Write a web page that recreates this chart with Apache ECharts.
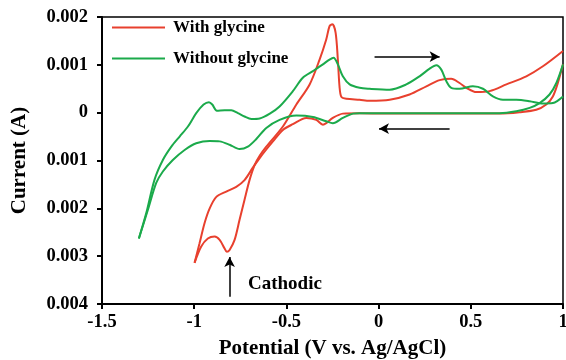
<!DOCTYPE html>
<html>
<head>
<meta charset="utf-8">
<script src="https://cdn.jsdelivr.net/npm/echarts@6/dist/echarts.min.js"></script>
<style>
  html, body { margin: 0; padding: 0; background: #fff; }
  #chart { width: 566px; height: 360px; }
</style>
</head>
<body>
<div id="chart"></div>
<script>
// cyclic voltammograms, potential in V, current in A
// red: with glycine. cathodic scan runs 1 -> -1, anodic scan -1 -> 1
const redCathodicV = [1.000, 0.972, 0.945, 0.909, 0.855, 0.765, 0.656, 0.400, 0.100, -0.103, -0.194, -0.248, -0.284, -0.302, -0.338, -0.392, -0.465, -0.519, -0.573, -0.609, -0.645, -0.682, -0.727, -0.772, -0.826, -0.880, -0.916, -0.944, -0.971, -0.998]
const redCathodicI = [0.00101, 0.00062, 0.00034, 0.00017, 0.00006, 0.00001, -0.00002, -0.00002, -0.00002, -0.00001, -0.00002, -0.00011, -0.00022, -0.00025, -0.00015, -0.00011, -0.00024, -0.00036, -0.00060, -0.00077, -0.00095, -0.00115, -0.00141, -0.00155, -0.00165, -0.00176, -0.00200, -0.00231, -0.00273, -0.00314]
const redAnodicV = [-0.998, -0.962, -0.926, -0.889, -0.862, -0.835, -0.823, -0.808, -0.781, -0.754, -0.727, -0.700, -0.672, -0.645, -0.609, -0.519, -0.446, -0.374, -0.320, -0.284, -0.266, -0.251, -0.233, -0.221, -0.212, -0.202, -0.175, -0.103, -0.049, 0.060, 0.168, 0.259, 0.331, 0.394, 0.439, 0.476, 0.530, 0.602, 0.693, 0.801, 0.891, 1.000]
const redAnodicI = [-0.00314, -0.00280, -0.00263, -0.00259, -0.00266, -0.00284, -0.00291, -0.00287, -0.00266, -0.00224, -0.00182, -0.00141, -0.00109, -0.00090, -0.00071, -0.00029, 0.00017, 0.00059, 0.00111, 0.00153, 0.00181, 0.00185, 0.00167, 0.00111, 0.00055, 0.00033, 0.00029, 0.00027, 0.00025, 0.00027, 0.00038, 0.00055, 0.00068, 0.00071, 0.00062, 0.00052, 0.00043, 0.00045, 0.00059, 0.00076, 0.00097, 0.00129]

// green: without glycine
const greenAnodicV = [-1.300, -1.260, -1.215, -1.170, -1.124, -1.079, -1.034, -0.989, -0.949, -0.920, -0.902, -0.877, -0.835, -0.799, -0.763, -0.727, -0.690, -0.645, -0.590, -0.537, -0.465, -0.411, -0.356, -0.302, -0.266, -0.244, -0.221, -0.194, -0.157, -0.103, -0.049, 0.060, 0.150, 0.222, 0.277, 0.313, 0.340, 0.367, 0.394, 0.439, 0.511, 0.566, 0.620, 0.674, 0.747, 0.819, 0.891, 0.945, 1.000]
const greenAnodicI = [-0.00263, -0.00210, -0.00140, -0.00099, -0.00071, -0.00050, -0.00029, -0.00001, 0.00017, 0.00022, 0.00017, 0.00004, 0.00005, 0.00005, -0.00001, -0.00008, -0.00013, -0.00012, -0.00002, 0.00013, 0.00045, 0.00073, 0.00087, 0.00101, 0.00111, 0.00115, 0.00101, 0.00076, 0.00059, 0.00052, 0.00050, 0.00048, 0.00059, 0.00076, 0.00092, 0.00099, 0.00090, 0.00066, 0.00052, 0.00050, 0.00055, 0.00050, 0.00034, 0.00027, 0.00027, 0.00024, 0.00019, 0.00020, 0.00034]
const greenCathodicV = [1.000, 0.964, 0.927, 0.873, 0.819, 0.747, 0.656, 0.400, 0.100, -0.103, -0.139, -0.194, -0.248, -0.284, -0.356, -0.446, -0.537, -0.609, -0.663, -0.709, -0.754, -0.808, -0.862, -0.916, -0.989, -1.052, -1.116, -1.170, -1.206, -1.251, -1.300]
const greenCathodicI = [0.00101, 0.00062, 0.00038, 0.00020, 0.00010, 0.00003, -0.00001, -0.00001, -0.00001, -0.00001, -0.00002, -0.00011, -0.00022, -0.00018, -0.00009, -0.00006, -0.00015, -0.00032, -0.00055, -0.00071, -0.00076, -0.00067, -0.00060, -0.00059, -0.00064, -0.00078, -0.00099, -0.00123, -0.00147, -0.00203, -0.00263]

const xTicks = [-1.5, -1, -0.5, 0, 0.5, 1]
const yTicks = [-0.004, -0.003, -0.002, -0.001, 0, 0.001, 0.002]

// annotation arrows (data coords)
const scanForward = [[-0.022, 0.00117], [0.331, 0.00117]]
const scanReverse = [[0.385, -0.000335], [0.002, -0.000335]]
const cathodicArrow = [[-0.808, -0.00385], [-0.808, -0.00302]]

const RED = '#E8402E'
const GREEN = '#1BAA4B'
const FONT = "'Liberation Serif', 'Times New Roman', serif"

const pairs = (xs, ys) => xs.map((x, i) => [x, ys[i]])

const chart = echarts.init(document.getElementById('chart'))

const curve = (name, color, xs, ys, extra) => ({
  name,
  type: 'line',
  data: pairs(xs, ys),
  symbol: 'none',
  smooth: 0.3,
  lineStyle: { color, width: 2 },
  itemStyle: { color },
  ...extra,
})

const arrowLine = (coords) => [
  { coord: coords[0] },
  { coord: coords[1] },
]

const legendBase = {
  left: 112,
  padding: 0,
  icon: 'rect',
  itemWidth: 53,
  itemHeight: 2,
  textStyle: { fontFamily: FONT, fontWeight: 'bold', fontSize: 17, color: '#000', padding: [0, 0, 0, 3] },
}

const tickLabel = {
  fontFamily: FONT,
  fontWeight: 'bold',
  fontSize: 18.5,
  color: '#000',
}

chart.setOption({
  animation: false,
  textStyle: { fontFamily: FONT },
  grid: {
    left: 102,
    right: 3,
    top: 17,
    bottom: 56,
    outerBoundsMode: 'none',
    containLabel: false,
    show: true,
    borderColor: '#000',
    borderWidth: 1.5,
  },
  legend: [
    { ...legendBase, data: ['With glycine'], top: 19 },
    { ...legendBase, data: ['Without glycine'], top: 50 },
  ],
  xAxis: {
    type: 'value',
    min: xTicks[0],
    max: xTicks[xTicks.length - 1],
    interval: 0.5,
    name: 'Potential (V vs. Ag/AgCl)',
    nameLocation: 'middle',
    nameGap: 34,
    nameTextStyle: { fontFamily: FONT, fontWeight: 'bold', fontSize: 21, color: '#000' },
    axisLine: { onZero: false, lineStyle: { color: '#000', width: 2 } },
    axisTick: { inside: false, length: 5, lineStyle: { color: '#000', width: 2 } },
    axisLabel: { ...tickLabel, margin: 9, formatter: (v) => String(v) },
    splitLine: { show: false },
  },
  yAxis: {
    type: 'value',
    min: yTicks[0],
    max: yTicks[yTicks.length - 1],
    interval: 0.001,
    name: 'Current (A)',
    nameLocation: 'middle',
    nameGap: 72,
    nameTextStyle: { fontFamily: FONT, fontWeight: 'bold', fontSize: 21, color: '#000' },
    axisLine: { onZero: false, lineStyle: { color: '#000', width: 2 } },
    axisTick: { inside: false, length: 5, lineStyle: { color: '#000', width: 2 } },
    axisLabel: {
      ...tickLabel,
      margin: 14,
      // the original prints magnitudes only
      formatter: (v) => (Math.abs(v) < 1e-9 ? '0' : Math.abs(v).toFixed(3)),
    },
    splitLine: { show: false },
  },
  series: [
    curve('With glycine', RED, redCathodicV, redCathodicI),
    curve('With glycine', RED, redAnodicV, redAnodicI),
    curve('Without glycine', GREEN, greenAnodicV, greenAnodicI),
    curve('Without glycine', GREEN, greenCathodicV, greenCathodicI, {
      markLine: {
        silent: true,
        symbol: ['none', 'arrow'],
        symbolSize: [8, 10],
        label: { show: false },
        lineStyle: { color: '#000', width: 1.5, type: 'solid' },
        data: [arrowLine(scanForward), arrowLine(scanReverse), arrowLine(cathodicArrow)],
      },
    }),
  ],
  graphic: [
    {
      type: 'text',
      left: 248,
      top: 275,
      style: {
        text: 'Cathodic',
        font: "bold 19px 'Liberation Serif', 'Times New Roman', serif",
        fill: '#000',
      },
    },
  ],
})
</script>
</body>
</html>
